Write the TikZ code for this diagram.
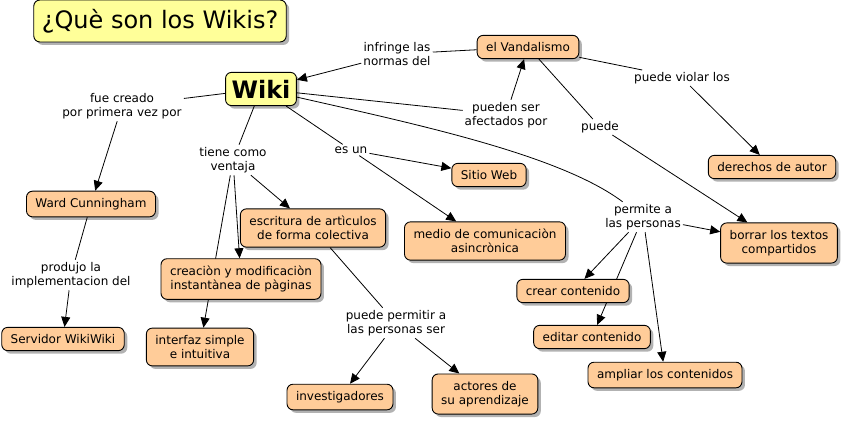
\documentclass[tikz,border=0pt]{standalone}
\usepackage{fontspec}
\setmainfont{DejaVu Sans}
\usetikzlibrary{arrows.meta,shadows,backgrounds}
\definecolor{peach}{RGB}{255,204,153}
\definecolor{lyellow}{RGB}{255,255,153}
\begin{document}
\begin{tikzpicture}[x=1pt,y=-1pt,
  box/.style={draw=black, line width=0.9pt, rounded corners=6pt, align=center,
    drop shadow={shadow xshift=3pt, shadow yshift=-3pt, fill=black, opacity=0.3}},
  concept/.style={box, fill=peach, font=\fontsize{12}{14.5}\selectfont, inner xsep=9pt, inner ysep=7pt},
  linkl/.style={align=center, font=\fontsize{12}{14.5}\selectfont, inner sep=2pt},
  link/.style={line width=0.8pt},
  arr/.style={link, -{Triangle[length=10pt,width=9pt]}}
]
\useasboundingbox (0,0) rectangle (843,421);
% concepts
\node[box, fill=lyellow, font=\fontsize{24}{28}\selectfont, inner xsep=8pt, inner ysep=9pt] (title) at (160,21) {¿Què son los Wikis?};
\node[box, fill=lyellow, font=\fontsize{24}{28}\bfseries, inner xsep=6pt, inner ysep=7.5pt] (wiki) at (261,89) {Wiki};
\node[concept] (vand) at (528,47) {el Vandalismo};
\node[concept] (der) at (772,167) {derechos de autor};
\node[concept] (sitio) at (489,175) {Sitio Web};
\node[concept] (medio) at (485,241) {medio de comunicaciòn\\asincrònica};
\node[concept] (borrar) at (779,243) {borrar los textos\\compartidos};
\node[concept] (ward) at (91,204) {Ward Cunningham};
\node[concept] (serv) at (63,339) {Servidor WikiWiki};
\node[concept] (escr) at (313,228) {escritura de artìculos\\de forma colectiva};
\node[concept] (crea) at (241,279) {creaciòn y modificaciòn\\instantànea de pàginas};
\node[concept] (interf) at (200,347) {interfaz simple\\e intuitiva};
\node[concept] (inv) at (340,397) {investigadores};
\node[concept] (act) at (485,394) {actores de\\su aprendizaje};
\node[concept] (crear) at (573,291) {crear contenido};
\node[concept] (editar) at (592,337) {editar contenido};
\node[concept] (ampl) at (665,375) {ampliar los contenidos};
% link labels
\node[linkl] (infr) at (397,54) {infringe las\\normas del};
\node[linkl] (afect) at (506,115) {pueden ser\\afectados por};
\node[linkl] (viol) at (682,78) {puede violar los};
\node[linkl] (puede) at (600,127) {puede};
\node[linkl] (fue) at (122,106) {fue creado\\por primera vez por};
\node[linkl] (tiene) at (233,160) {tiene como\\ventaja};
\node[linkl] (prod) at (71,275) {produjo la\\implementacion del};
\node[linkl] (esun) at (351,150) {es un};
\node[linkl] (perm) at (643,217) {permite a\\las personas};
\node[linkl] (ppers) at (396,323) {puede permitir a\\las personas ser};
% connectors
\begin{pgfonlayer}{background}
\draw[link] (vand) -- (infr);
\draw[arr] (infr) -- (wiki);
\draw[link] (wiki) -- (afect);
\draw[arr] (afect) -- (vand);
\draw[link] (vand) -- (viol);
\draw[arr] (viol) -- (der);
\draw[link] (vand) -- (puede);
\draw[arr] (puede) -- (borrar);
\draw[link] (wiki) -- (fue);
\draw[arr] (fue) -- (ward);
\draw[link] (ward) -- (prod);
\draw[arr] (prod) -- (serv);
\draw[link] (wiki) -- (tiene);
\draw[arr] (tiene) -- (escr);
\draw[arr] (tiene) -- (crea);
\draw[arr] (tiene) -- (interf);
\draw[link] (wiki) -- (esun);
\draw[arr] (esun) -- (sitio);
\draw[arr] (esun) -- (medio);
\draw[link] (wiki) .. controls (420,125) and (560,155) .. (perm);
\draw[arr] (perm) -- (borrar);
\draw[arr] (perm) -- (crear);
\draw[arr] (perm) -- (editar);
\draw[arr] (perm) -- (ampl);
\draw[link] (escr) -- (ppers);
\draw[arr] (ppers) -- (inv);
\draw[arr] (ppers) -- (act);
\end{pgfonlayer}
\end{tikzpicture}
\end{document}
